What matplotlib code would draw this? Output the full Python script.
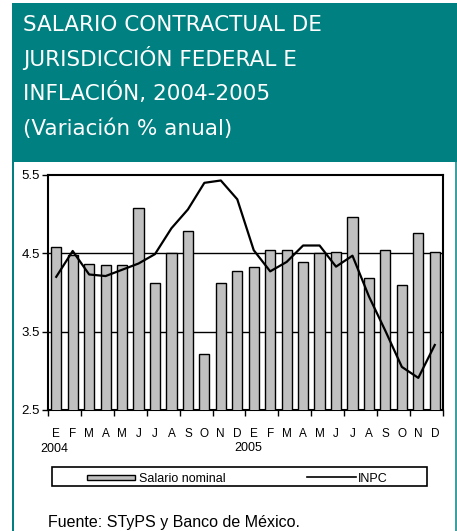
import matplotlib
matplotlib.use("Agg")
import matplotlib.pyplot as plt
from matplotlib.patches import Rectangle
from matplotlib.lines import Line2D
import numpy as np

plt.rcParams['font.family'] = ['Liberation Sans', 'DejaVu Sans']

months = ["E", "F", "M", "A", "M", "J", "J", "A", "S", "O", "N", "D",
          "E", "F", "M", "A", "M", "J", "J", "A", "S", "O", "N", "D"]
years = ["2004", "2005"]
salario = [4.58, 4.48, 4.37, 4.35, 4.35, 5.08, 4.12, 4.50, 4.78, 3.22, 4.12, 4.27,
           4.32, 4.54, 4.54, 4.39, 4.50, 4.52, 4.96, 4.19, 4.54, 4.09, 4.76, 4.52]
inpc = [4.20, 4.53, 4.23, 4.21, 4.29, 4.37, 4.49, 4.82, 5.06, 5.40, 5.43, 5.19,
        4.54, 4.27, 4.39, 4.60, 4.60, 4.33, 4.47, 3.95, 3.51, 3.05, 2.91, 3.33]
yticks = [2.5, 3.5, 4.5, 5.5]
title_lines = ["SALARIO CONTRACTUAL DE", "JURISDICCIÓN FEDERAL E",
               "INFLACIÓN, 2004-2005", "(Variación % anual)"]
legend_labels = ["Salario nominal", "INPC"]
source = "Fuente: STyPS y Banco de México."

W, H = 457, 531
TEAL = "#008080"
BAR = "#C0C0C0"

fig = plt.figure(figsize=(W / 100, H / 100), dpi=100)
fig.patch.set_facecolor("white")

def fx(px):
    return px / W

def fy(py):
    return 1 - py / H

# teal header and borders
fig.add_artist(Rectangle((fx(12), fy(162)), fx(445), 159 / H, transform=fig.transFigure,
                         facecolor=TEAL, edgecolor="none", zorder=0))
fig.add_artist(Rectangle((fx(12), 0), fx(2), fy(162), transform=fig.transFigure,
                         facecolor=TEAL, edgecolor="none", zorder=0))
fig.add_artist(Rectangle((fx(454.5), 0), fx(2.5), fy(162), transform=fig.transFigure,
                         facecolor=TEAL, edgecolor="none", zorder=0, alpha=0.75))

baselines = [30.7, 65.7, 100.5, 135]
for line, b in zip(title_lines, baselines):
    fig.text(fx(23), fy(b), line, color="white", fontsize=15.5, va="baseline", ha="left",
             family="DejaVu Sans")

ax = fig.add_axes([fx(48), fy(410), fx(443 - 48), (410 - 175) / H])
x = np.arange(len(months))
ax.bar(x, salario, width=0.62, color=BAR, edgecolor="black", linewidth=1.0, zorder=3)
ax.plot(x, inpc, color="black", linewidth=1.6, zorder=4)
ax.set_xlim(-0.5, len(months) - 0.5)
ax.set_ylim(2.5, 5.5)
ax.set_yticks(yticks)
ax.set_yticklabels([f"{v:.1f}" for v in yticks], fontsize=9.5)
for v in yticks[1:-1]:
    ax.axhline(v, color="black", linewidth=1.0, zorder=1)
ax.set_xticks(np.arange(-0.5, len(months), 2))
ax.set_xticklabels([])
ax.set_xticks(x, minor=True)
ax.set_xticklabels(months, minor=True, fontsize=8.5)
ax.tick_params(axis="x", which="minor", length=0, pad=13)
ax.tick_params(axis="x", which="major", direction="out", length=4, width=1)
ax.tick_params(axis="y", direction="out", length=4, width=1, pad=2)
for s in ax.spines.values():
    s.set_linewidth(1.5)
    s.set_color("black")

fig.text(fx(54), fy(452), years[0], fontsize=9, ha="center", va="baseline")
fig.text(fx(248), fy(451), years[1], fontsize=9, ha="center", va="baseline")

# legend
fig.add_artist(Rectangle((fx(51.5), fy(486)), fx(375), 19 / H, transform=fig.transFigure,
                         facecolor="white", edgecolor="black", linewidth=1.2))
fig.add_artist(Rectangle((fx(87), fy(479.5)), fx(48), 5 / H, transform=fig.transFigure,
                         facecolor=BAR, edgecolor="black", linewidth=1.0))
fig.text(fx(139), fy(482.5), legend_labels[0], fontsize=9, va="baseline", ha="left")
fig.add_artist(Line2D([fx(307), fx(356)], [fy(477), fy(477)], transform=fig.transFigure,
                      color="black", linewidth=1.2))
fig.text(fx(358), fy(482.5), legend_labels[1], fontsize=9, va="baseline", ha="left")

fig.text(fx(48), fy(526.5), source, fontsize=11.5, va="baseline", ha="left")

fig.savefig("out.png", dpi=100)
